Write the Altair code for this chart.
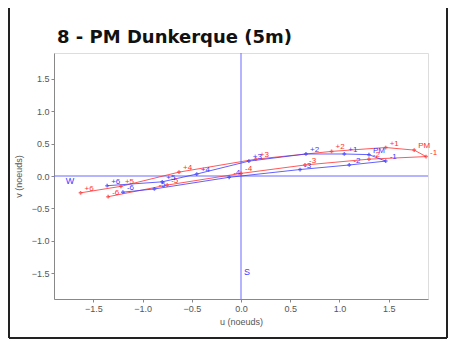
import altair as alt
import pandas as pd

hours = ["-6", "-5", "-4", "-3", "-2", "-1", "PM", "+1", "+2", "+3", "+4", "+5", "+6"]
red_u = [-1.35, -0.75, 0.0, 0.65, 1.3, 1.88, 1.76, 1.47, 0.92, 0.15, -0.63, -1.22, -1.63]
red_v = [-0.32, -0.14, 0.04, 0.17, 0.26, 0.30, 0.40, 0.44, 0.38, 0.26, 0.06, -0.16, -0.26]
blue_u = [-1.2, -0.88, -0.12, 0.6, 1.1, 1.47, 1.3, 1.05, 0.66, 0.08, -0.45, -0.8, -1.36]
blue_v = [-0.25, -0.2, -0.02, 0.1, 0.17, 0.23, 0.33, 0.34, 0.34, 0.23, 0.03, -0.09, -0.15]
title_text = "8 - PM Dunkerque (5m)"

RED = "#ff3030"
BLUE = "#3a3aff"

rows = []
for i, h in enumerate(hours):
    rows.append({"serie": "red", "i": i, "h": h, "u": red_u[i], "v": red_v[i]})
    rows.append({"serie": "blue", "i": i, "h": h, "u": blue_u[i], "v": blue_v[i]})
df = pd.DataFrame(rows)

xs = alt.Scale(domain=[-1.9, 1.9], nice=False, zero=False)
ys = alt.Scale(domain=[-1.9, 1.9], nice=False, zero=False)
cs = alt.Scale(domain=["red", "blue"], range=[RED, BLUE])

xaxis = alt.Axis(values=[-1.5, -1, -0.5, 0, 0.5, 1, 1.5], title="u (noeuds)", grid=False,
                 labelFontSize=9, titleFontSize=9, labelColor="#555", titleColor="#555",
                 domainColor="#888", tickColor="#888", tickSize=3, titleFontWeight="normal",
                 titlePadding=4)
yaxis = alt.Axis(values=[-1.5, -1, -0.5, 0, 0.5, 1, 1.5], title="v (noeuds)", grid=False,
                 labelFontSize=9, titleFontSize=9, labelColor="#555", titleColor="#555",
                 domainColor="#888", tickColor="#888", tickSize=3, titleFontWeight="normal",
                 titlePadding=8)

base = alt.Chart(df)

lines = base.mark_line(strokeWidth=1, opacity=0.8).encode(
    x=alt.X("u:Q", scale=xs, axis=xaxis),
    y=alt.Y("v:Q", scale=ys, axis=yaxis),
    color=alt.Color("serie:N", scale=cs, legend=None),
    order="i:Q",
    detail="serie:N",
)
pts = base.mark_point(shape="cross", size=14, filled=True).encode(
    x="u:Q", y="v:Q", color=alt.Color("serie:N", scale=cs, legend=None)
)
labels = base.mark_text(fontSize=8, dx=4, dy=-4, align="left", font="Liberation Sans").encode(
    x="u:Q", y="v:Q", text="h:N", color=alt.Color("serie:N", scale=cs, legend=None)
)

hline = alt.Chart(pd.DataFrame({"v": [0]})).mark_rule(color="#6a6aff", strokeWidth=1).encode(
    y=alt.Y("v:Q", scale=ys)
)
vline = alt.Chart(pd.DataFrame({"u": [0]})).mark_rule(color="#6a6aff", strokeWidth=1).encode(
    x=alt.X("u:Q", scale=xs)
)
card = alt.Chart(pd.DataFrame({"u": [-1.78, 0.03], "v": [-0.07, -1.48], "t": ["W", "S"]})).mark_text(
    fontSize=9, color=BLUE, align="left", font="Liberation Sans"
).encode(x=alt.X("u:Q", scale=xs), y=alt.Y("v:Q", scale=ys), text="t:N")

title = alt.Chart(pd.DataFrame({"t": [title_text]})).mark_text(
    fontSize=18, font="DejaVu Sans", fontWeight="bold", color="#111", align="left",
    baseline="alphabetic", clip=False
).encode(x=alt.value(3), y=alt.value(-10), text="t:N")

frame_l = alt.Chart(pd.DataFrame({"a": [0]})).mark_rule(color="#222", strokeWidth=2, clip=False).encode(
    x=alt.value(-45), y=alt.value(-60), y2=alt.value(285))
frame_r = alt.Chart(pd.DataFrame({"a": [0]})).mark_rule(color="#222", strokeWidth=2, clip=False).encode(
    x=alt.value(393), y=alt.value(-60), y2=alt.value(285))
frame_b = alt.Chart(pd.DataFrame({"a": [0]})).mark_rule(color="#222", strokeWidth=2, clip=False).encode(
    x=alt.value(-45), x2=alt.value(393), y=alt.value(285))

chart = alt.layer(hline, vline, lines, pts, labels, card, title, frame_l, frame_r, frame_b).properties(
    width=374,
    height=246,
    autosize="none",
    padding={"left": 46, "top": 45, "right": 21, "bottom": 43},
).configure_view(stroke=None).configure(background="white")

chart.save("out.html", embed_options={"renderer": "svg", "actions": False})
